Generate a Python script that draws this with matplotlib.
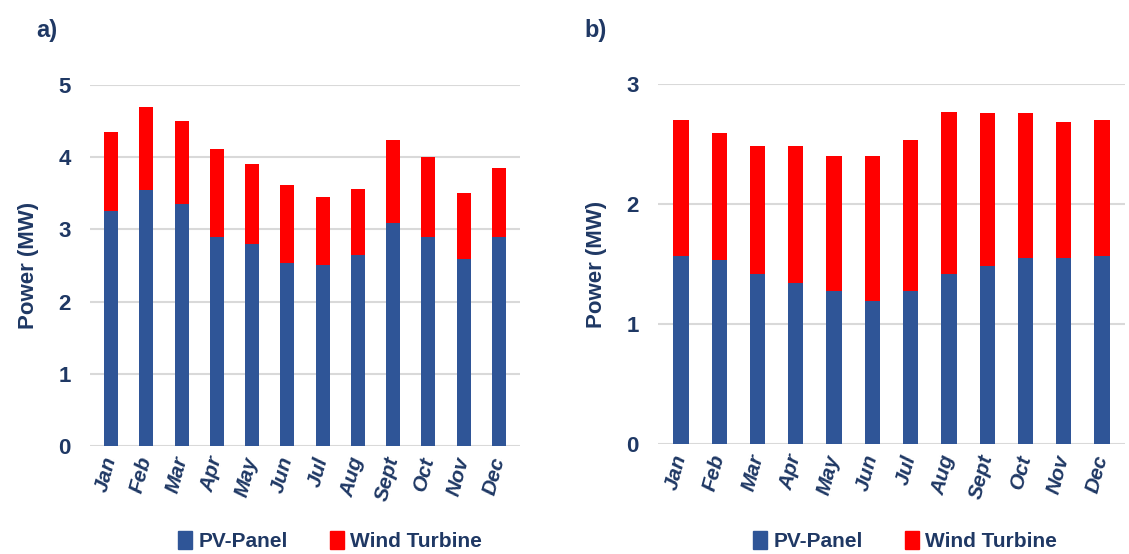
import matplotlib
matplotlib.use("Agg")
import matplotlib.pyplot as plt
from matplotlib.patches import Patch
import numpy as np

plt.rcParams['font.family'] = ['Liberation Sans', 'DejaVu Sans']

months = ["Jan", "Feb", "Mar", "Apr", "May", "Jun", "Jul", "Aug", "Sept", "Oct", "Nov", "Dec"]

# Panel a) (MW)
pv_a = [3.25, 3.55, 3.35, 2.90, 2.80, 2.54, 2.51, 2.65, 3.09, 2.90, 2.59, 2.90]
total_a = [4.35, 4.70, 4.50, 4.11, 3.90, 3.61, 3.45, 3.555, 4.24, 4.00, 3.50, 3.85]
wind_a = [t - p for t, p in zip(total_a, pv_a)]

# Panel b) (MW)
pv_b = [1.57, 1.535, 1.42, 1.34, 1.275, 1.19, 1.275, 1.42, 1.48, 1.55, 1.55, 1.57]
total_b = [2.70, 2.595, 2.48, 2.48, 2.40, 2.40, 2.53, 2.77, 2.76, 2.76, 2.68, 2.70]
wind_b = [t - p for t, p in zip(total_b, pv_b)]

yticks_a = [0, 1, 2, 3, 4, 5]
yticks_b = [0, 1, 2, 3]

navy = "#1F3864"
blue = "#2F5597"
red = "#FF0000"
grid = "#D9D9D9"

fig = plt.figure(figsize=(11.29, 5.54), dpi=100)
W, H = 1129, 554

def make_ax(left, right, top, bottom):
    return fig.add_axes([left / W, 1 - bottom / H, (right - left) / W, (bottom - top) / H])

ax_a = make_ax(90, 520, 85, 446)
ax_b = make_ax(658, 1125, 84, 444)

def draw(ax, pv, wind, yticks, legend_x):
    x = np.arange(len(months))
    ax.bar(x, pv, width=0.4, color=blue, zorder=3)
    ax.bar(x, wind, bottom=pv, width=0.4, color=red, zorder=3)
    ax.set_xlim(-0.6, len(months) - 0.4)
    ax.set_ylim(0, yticks[-1])
    ax.set_yticks(yticks)
    ax.set_yticklabels([str(v) for v in yticks], fontsize=16, fontweight='bold', color=navy)
    ax.set_xticks(x)
    ax.set_xticklabels(months, rotation=75, fontsize=15, fontweight='bold', fontstyle='italic',
                       color=navy, ha='right', va='center', rotation_mode='anchor')
    ax.yaxis.grid(True, color=grid, linewidth=1.5, zorder=0)
    ax.set_axisbelow(True)
    for s in ax.spines.values():
        s.set_visible(False)
    ax.tick_params(axis='y', length=0, pad=14)
    ax.tick_params(axis='x', length=0, pad=8)
    ax.set_ylabel("Power (MW)", fontsize=16, fontweight='bold', color=navy, labelpad=14)
    handles = [Patch(color=blue, label="PV-Panel"), Patch(color=red, label="Wind Turbine")]
    leg = fig.legend(handles=handles, loc='center', bbox_to_anchor=(legend_x / W, 1 - 541 / H), ncol=2,
                     frameon=False, fontsize=15, handlelength=0.7, handleheight=1.0,
                     handletextpad=0.3, columnspacing=2.0, borderaxespad=0)
    for t in leg.get_texts():
        t.set_color(navy)
        t.set_fontweight('bold')

draw(ax_a, pv_a, wind_a, yticks_a, 330)
draw(ax_b, pv_b, wind_b, yticks_b, 905)

fig.text(36 / W, 1 - 30 / H, "a)", fontsize=17, fontweight='bold', color=navy, va='center')
fig.text(584 / W, 1 - 30 / H, "b)", fontsize=17, fontweight='bold', color=navy, va='center')

fig.savefig("out.png", dpi=100)
